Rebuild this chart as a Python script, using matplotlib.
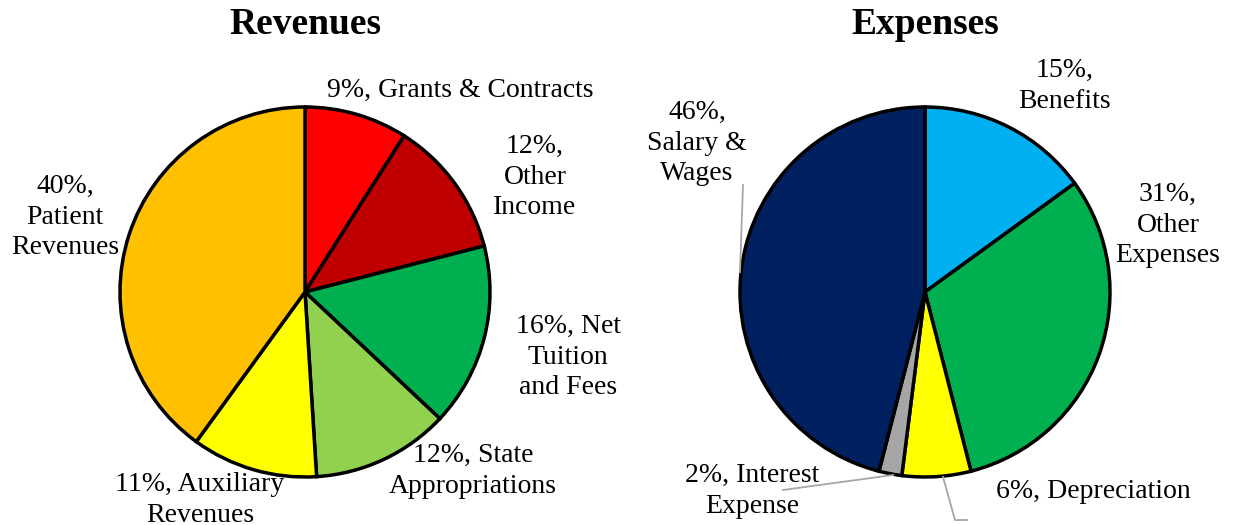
import matplotlib
matplotlib.use("Agg")
import matplotlib.pyplot as plt

rev_labels = ["9%, Grants & Contracts", "12%,\nOther\nIncome", "16%, Net\nTuition\nand Fees",
              "12%, State\nAppropriations", "11%, Auxiliary\nRevenues", "40%,\nPatient\nRevenues"]
rev_values = [9, 12, 16, 12, 11, 40]
rev_colors = ["#FF0000", "#C00000", "#00B050", "#92D050", "#FFFF00", "#FFC000"]

exp_labels = ["15%,\nBenefits", "31%,\nOther\nExpenses", "6%, Depreciation",
              "2%, Interest\nExpense", "46%,\nSalary &\nWages"]
exp_values = [15, 31, 6, 2, 46]
exp_colors = ["#00B0F0", "#00B050", "#FFFF00", "#A6A6A6", "#002060"]

W, H = 1235, 525
plt.rcParams["font.family"] = ["Liberation Serif", "DejaVu Serif"]
fig = plt.figure(figsize=(W / 100, H / 100), dpi=100)
ax = fig.add_axes([0, 0, 1, 1])

wp = dict(edgecolor="black", linewidth=2.5)
# y axis gets inverted below, so counterclock=True reads clockwise on screen
ax.pie(rev_values, colors=rev_colors, startangle=-90, counterclock=True,
       center=(305, 292), radius=185, wedgeprops=wp, frame=True)
ax.pie(exp_values, colors=exp_colors, startangle=-90, counterclock=True,
       center=(925, 292), radius=185, wedgeprops=wp, frame=True)
ax.set_xlim(0, W)
ax.set_ylim(H, 0)
ax.set_aspect("equal")
ax.axis("off")

fs = 20
rev_pos = [(460, 90), (535, 177), (568, 357), (473, 471), (200, 500), (65, 217)]
exp_pos = [(1065, 86), (1168, 225), (1093, 492), (752, 491), (697, 143)]
for lab, (x, y) in zip(rev_labels + exp_labels, rev_pos + exp_pos):
    ax.text(x, y, lab, ha="center", va="center", fontsize=fs, linespacing=1.28)

ax.text(305, 24, "Revenues", ha="center", va="center", fontsize=27, fontweight="bold")
ax.text(925, 24, "Expenses", ha="center", va="center", fontsize=27, fontweight="bold")

# leader lines
lc = "#A6A6A6"
ax.plot([740, 743], [272, 185], color=lc, lw=1.3)
ax.plot([893, 783], [475, 490], color=lc, lw=1.3)
ax.plot([943, 955, 967], [477, 520, 520], color=lc, lw=1.3)

fig.savefig("out.png", dpi=100)
